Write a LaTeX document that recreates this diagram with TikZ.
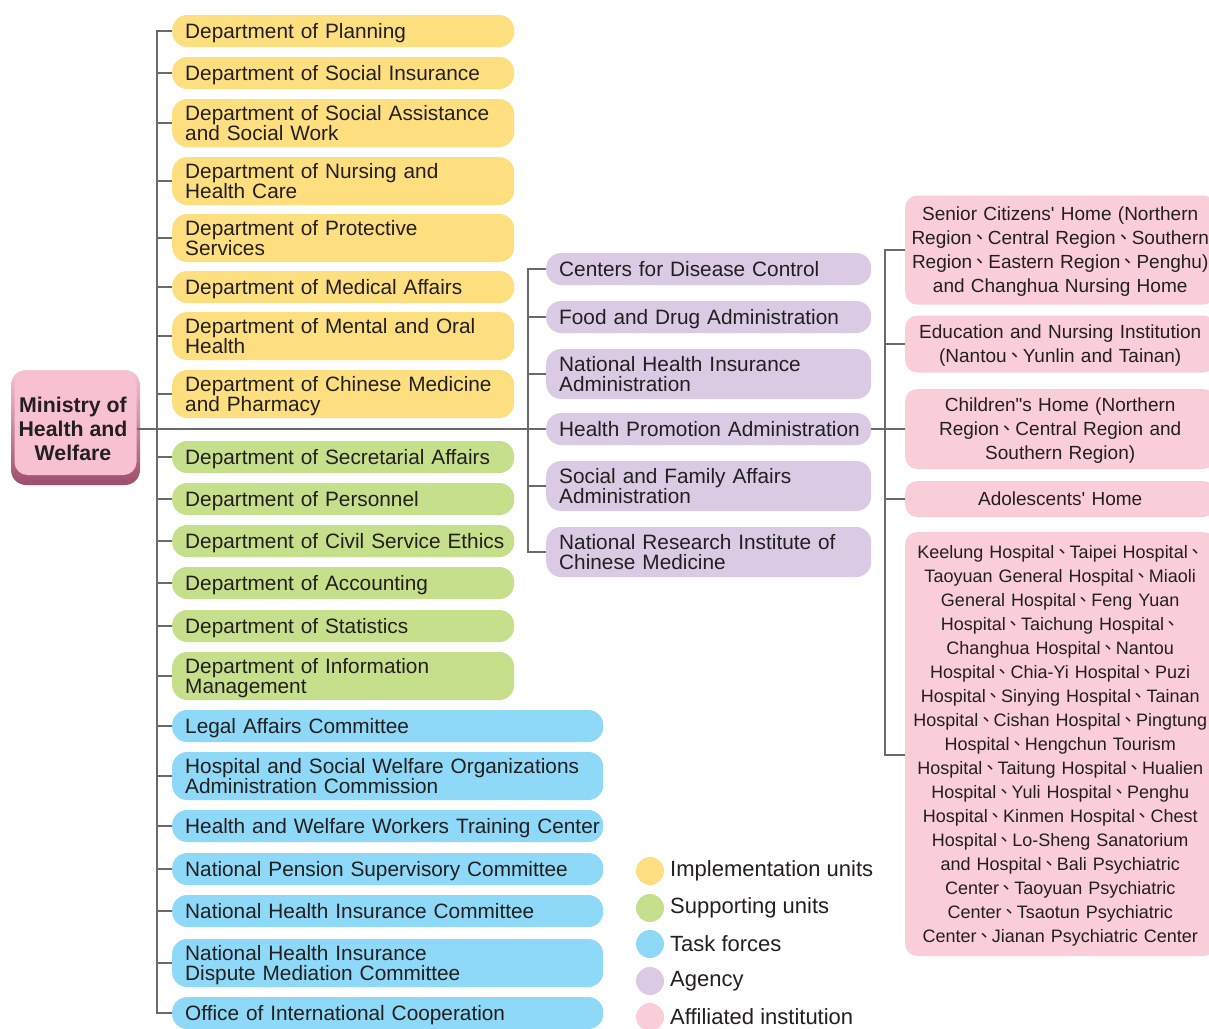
\documentclass[tikz,border=0pt]{standalone}
\usepackage{fontspec}
\setmainfont{Liberation Sans}
\newfontfamily\lsans{Liberation Sans}
\newfontfamily\cjkt{Noto Sans CJK TC}
\usetikzlibrary{calc}
\newcommand{\dun}{\makebox[0.85em][c]{\cjkt 、}}
\newcommand{\one}[1]{\mbox{\rule[-4.5pt]{0pt}{23.5pt}#1}}
\newcommand{\two}[2]{\mbox{\rule{0pt}{19pt}#1}\\\mbox{\rule[-4.5pt]{0pt}{4.5pt}#2}}
\newcommand{\ps}{\rule{0pt}{18pt}}
\newcommand{\pe}{\rule[-4.4pt]{0pt}{4.4pt}}
\definecolor{cyel}{HTML}{FEDF7F}
\definecolor{cgrn}{HTML}{C6DF8B}
\definecolor{cblu}{HTML}{8ED8F8}
\definecolor{cpur}{HTML}{DACAE4}
\definecolor{cpnk}{HTML}{F9CED9}
\definecolor{ctxt}{HTML}{231F20}
\definecolor{cline}{HTML}{6A6A6A}
\definecolor{crootin}{HTML}{F8C1D2}
\definecolor{crimtop}{HTML}{F6C6D4}
\definecolor{crimbot}{HTML}{9E4D6C}
\begin{document}
\begin{tikzpicture}[x=1pt,y=1pt]
\tikzset{
  conn/.style={draw=cline, line width=1.3pt},
  mainconn/.style={draw=cline, line width=1.8pt},
  orgbox/.style={rounded corners=15pt, inner xsep=13pt, inner ysep=0pt, align=left, text=ctxt,
    font=\lsans\fontsize{20.8}{20}\selectfont, anchor=west, minimum height=32pt},
  twol/.style={minimum height=48pt},
  twola/.style={minimum height=50pt},
  ybx/.style={orgbox, fill=cyel, text width=316pt},
  gbx/.style={orgbox, fill=cgrn, text width=316pt},
  bbx/.style={orgbox, fill=cblu, text width=405pt},
  abx/.style={orgbox, fill=cpur, text width=299pt},
  pbx/.style={rounded corners=12pt, fill=cpnk, inner xsep=5pt, inner ysep=0pt, text width=300pt,
    align=center, text=ctxt, font=\lsans\fontsize{19}{24}\selectfont, anchor=west},
  legdot/.style={circle, inner sep=0pt, minimum size=28pt},
  legtext/.style={anchor=west, inner sep=0pt, text=ctxt, font=\lsans\fontsize{22}{24}\selectfont},
}
\useasboundingbox (0,0) rectangle (1209,-1028);
\clip (0,0) rectangle (1209,-1028);
\fill[white] (0,0) rectangle (1209,-1028);

% root
\node[rounded corners=15pt, minimum width=129pt, minimum height=115pt, inner sep=0pt,
  top color=crimtop, bottom color=crimbot] (rootrim) at (75.5,-427.5) {};
\node[rounded corners=13pt, minimum width=122pt, minimum height=103pt, inner sep=0pt,
  fill=crootin] (root) at (75.5,-423.5) {};
\node[align=center, inner sep=0pt, text=ctxt, font=\lsans\bfseries\fontsize{21.3}{24}\selectfont]
  (rootlabel) at (73,-429) {Ministry of\\Health and\\Welfare};

% implementation units
\node[ybx] (n1) at (172,-31) {\one{Department of Planning}};
\node[ybx] (n2) at (172,-73) {\one{Department of Social Insurance}};
\node[ybx,twol] (n3) at (172,-123) {\two{Department of Social Assistance}{and Social Work}};
\node[ybx,twol] (n4) at (172,-181) {\two{Department of Nursing and}{Health Care}};
\node[ybx,twol] (n5) at (172,-238) {\two{Department of Protective}{Services}};
\node[ybx] (n6) at (172,-287) {\one{Department of Medical Affairs}};
\node[ybx,twol] (n7) at (172,-336) {\two{Department of Mental and Oral}{Health}};
\node[ybx,twol] (n8) at (172,-394) {\two{Department of Chinese Medicine}{and Pharmacy}};
% supporting units
\node[gbx] (n9) at (172,-457) {\one{Department of Secretarial Affairs}};
\node[gbx] (n10) at (172,-499) {\one{Department of Personnel}};
\node[gbx] (n11) at (172,-541) {\one{Department of Civil Service Ethics}};
\node[gbx] (n12) at (172,-583) {\one{Department of Accounting}};
\node[gbx] (n13) at (172,-626) {\one{Department of Statistics}};
\node[gbx,twol] (n14) at (172,-676) {\two{Department of Information}{Management}};
% task forces
\node[bbx] (n15) at (172,-726) {\one{Legal Affairs Committee}};
\node[bbx,twol] (n16) at (172,-776) {\two{Hospital and Social Welfare Organizations}{Administration Commission}};
\node[bbx] (n17) at (172,-826) {\one{Health and Welfare Workers Training Center}};
\node[bbx] (n18) at (172,-869) {\one{National Pension Supervisory Committee}};
\node[bbx] (n19) at (172,-911) {\one{National Health Insurance Committee}};
\node[bbx,twol] (n20) at (172,-963) {\two{National Health Insurance}{Dispute Mediation Committee}};
\node[bbx] (n21) at (172,-1013) {\one{Office of International Cooperation}};

% agencies
\node[abx] (a1) at (546,-269) {\one{Centers for Disease Control}};
\node[abx] (a2) at (546,-317) {\one{Food and Drug Administration}};
\node[abx,twola] (a3) at (546,-374) {\two{National Health Insurance}{Administration}};
\node[abx] (a4) at (546,-429) {\one{Health Promotion Administration}};
\node[abx,twola] (a5) at (546,-486) {\two{Social and Family Affairs}{Administration}};
\node[abx,twola] (a6) at (546,-552) {\two{National Research Institute of}{Chinese Medicine}};

% affiliated institutions
\node[pbx, minimum height=109pt] (p1) at (905,-250) {\ps Senior Citizens' Home (Northern\\Region\dun Central Region\dun Southern\\Region\dun Eastern Region\dun Penghu)\\and Changhua Nursing Home\pe};
\node[pbx, minimum height=57pt] (p2) at (905,-344) {\ps Education and Nursing Institution\\(Nantou\dun Yunlin and Tainan)\pe};
\node[pbx, minimum height=80pt] (p3) at (905,-429) {\ps Children"s Home (Northern\\Region\dun Central Region and\\Southern Region)\pe};
\node[pbx, minimum height=36pt] (p4) at (905,-499) {\ps Adolescents' Home\pe};
\node[pbx, minimum height=424pt, font=\lsans\fontsize{18}{24}\selectfont] (p5) at (905,-744) {\ps Keelung Hospital\dun Taipei Hospital\dun\\
Taoyuan General Hospital\dun Miaoli\\
General Hospital\dun Feng Yuan\\
Hospital\dun Taichung Hospital\dun\\
Changhua Hospital\dun Nantou\\
Hospital\dun Chia-Yi Hospital\dun Puzi\\
Hospital\dun Sinying Hospital\dun Tainan\\
Hospital\dun Cishan Hospital\dun Pingtung\\
Hospital\dun Hengchun Tourism\\
Hospital\dun Taitung Hospital\dun Hualien\\
Hospital\dun Yuli Hospital\dun Penghu\\
Hospital\dun Kinmen Hospital\dun Chest\\
Hospital\dun Lo-Sheng Sanatorium\\
and Hospital\dun Bali Psychiatric\\
Center\dun Taoyuan Psychiatric\\
Center\dun Tsaotun Psychiatric\\
Center\dun Jianan Psychiatric Center\pe};
\coordinate (p5tick) at ($(p5.west)+(0,-11)$);

% connectors
\draw[conn] (n1.west) -- ++(-15,0) |- (n21.west);
\foreach \n in {n2,n3,n4,n5,n6,n7,n8,n9,n10,n11,n12,n13,n14,n15,n16,n17,n18,n19,n20}
  \draw[conn] (\n.west) -- ++(-15,0);
\draw[conn] (a1.west) -- ++(-18,0) |- (a6.west);
\foreach \n in {a2,a3,a4,a5}
  \draw[conn] (\n.west) -- ++(-18,0);
\draw[mainconn] (root.east |- a4.west) -- (a4.west);
\draw[conn] (p1.west) -- ++(-20,0) |- (p5tick);
\foreach \n in {p2,p3,p4}
  \draw[conn] (\n.west) -- ++(-20,0);
\draw[conn] (a4.east) -- (p3.west);

% legend
\node[legdot, fill=cyel] (lc1) at (650,-871) {};
\node[legdot, fill=cgrn] (lc2) at (650,-908) {};
\node[legdot, fill=cblu] (lc3) at (650,-944) {};
\node[legdot, fill=cpur] (lc4) at (650,-981) {};
\node[legdot, fill=cpnk] (lc5) at (650,-1017) {};
\node[legtext] (lt1) at (670,-871) {Implementation units};
\node[legtext] (lt2) at (670,-908) {Supporting units};
\node[legtext] (lt3) at (670,-944) {Task forces};
\node[legtext] (lt4) at (670,-981) {Agency};
\node[legtext] (lt5) at (670,-1017) {Affiliated institution};
\end{tikzpicture}
\end{document}
